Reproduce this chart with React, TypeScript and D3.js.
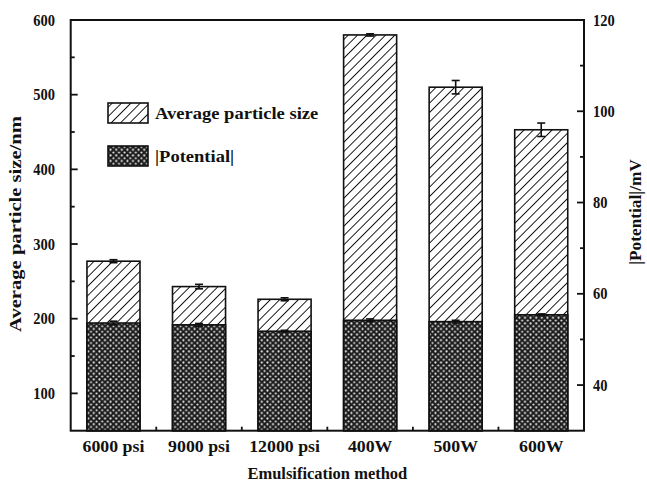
import * as d3 from "d3";

const categories = ["6000 psi", "9000 psi", "12000 psi", "400W", "500W", "600W"];
const particleSize = [277, 243, 226, 580, 510, 453];
const particleErr = [2, 3, 2, 1.5, 9, 9];
const potential = [53.6, 53.2, 51.8, 54.2, 53.9, 55.4];
const potentialErr = [0.4, 0.3, 0.2, 0.3, 0.3, 0.2];
const leftTicks = [100, 200, 300, 400, 500, 600];
const leftMinor = [150, 250, 350, 450, 550];
const rightTicks = [40, 60, 80, 100, 120];
const rightMinor = [50, 70, 90, 110];

const W = 647;
const H = 483;
const left = 70.7;
const right = 584;
const top = 20;
const bottom = 430.7;
const FONT = "'Liberation Serif', 'Times New Roman', serif";

function Txt(props: {
  x: number;
  y: number;
  fs: number;
  sx?: number;
  sy?: number;
  rot?: number;
  anchor?: string;
  children: any;
}) {
  const { x, y, fs, sx = 1, sy = 1, rot = 0, anchor = "middle" } = props;
  return (
    <text
      transform={`translate(${x},${y}) rotate(${rot}) scale(${sx},${sy})`}
      fontSize={fs}
      fontFamily={FONT}
      fontWeight="bold"
      textAnchor={anchor}
      fill="#111"
    >
      {props.children}
    </text>
  );
}

export default function App() {
  const x = d3
    .scaleBand<string>()
    .domain(categories)
    .range([left, right])
    .paddingInner(0.38)
    .paddingOuter(0.19);
  const yL = d3.scaleLinear().domain([50, 600]).range([bottom, top]);
  const yR = d3.scaleLinear().domain([30, 120]).range([bottom, top]);
  const bw = x.bandwidth();
  const cap = 4;

  return (
    <svg
      width={W}
      height={H}
      style={{ position: "absolute", left: 0, top: 0, background: "#fff" }}
    >
      <defs>
        <pattern
          id="hatch"
          width={6.6}
          height={6.6}
          patternUnits="userSpaceOnUse"
          patternTransform="rotate(45)"
        >
          <rect width={6.6} height={6.6} fill="#fff" />
          <line x1={0} y1={0} x2={0} y2={6.6} stroke="#111" strokeWidth={1.9} />
        </pattern>
        <pattern id="dots" width={5.6} height={5.6} patternUnits="userSpaceOnUse">
          <rect width={5.6} height={5.6} fill="#1c1c1c" />
          <circle cx={1.4} cy={1.4} r={1.05} fill="#f4f4f4" />
          <circle cx={4.2} cy={4.2} r={1.05} fill="#f4f4f4" />
        </pattern>
      </defs>

      {/* particle size bars */}
      {categories.map((c, i) => (
        <rect
          key={"p" + c}
          x={x(c)!}
          y={yL(particleSize[i])}
          width={bw}
          height={bottom - yL(particleSize[i])}
          fill="url(#hatch)"
          stroke="#111"
          strokeWidth={1.6}
        />
      ))}
      {categories.map((c, i) => {
        const cx = x(c)! + bw / 2;
        const y1 = yL(particleSize[i] + particleErr[i]);
        const y2 = yL(particleSize[i] - particleErr[i]);
        return (
          <g key={"pe" + c} stroke="#111" strokeWidth={1.6}>
            <line x1={cx} x2={cx} y1={y1} y2={y2} />
            <line x1={cx - cap} x2={cx + cap} y1={y1} y2={y1} />
            <line x1={cx - cap} x2={cx + cap} y1={y2} y2={y2} />
          </g>
        );
      })}

      {/* potential bars */}
      {categories.map((c, i) => (
        <rect
          key={"z" + c}
          x={x(c)!}
          y={yR(potential[i])}
          width={bw}
          height={bottom - yR(potential[i])}
          fill="url(#dots)"
          stroke="#111"
          strokeWidth={1.6}
        />
      ))}
      {categories.map((c, i) => {
        const cx = x(c)! + bw / 2;
        const y1 = yR(potential[i] + potentialErr[i]);
        const y2 = yR(potential[i] - potentialErr[i]);
        return (
          <g key={"ze" + c} stroke="#111" strokeWidth={1.6}>
            <line x1={cx} x2={cx} y1={y1} y2={y2} />
            <line x1={cx - cap} x2={cx + cap} y1={y1} y2={y1} />
            <line x1={cx - cap} x2={cx + cap} y1={y2} y2={y2} />
          </g>
        );
      })}

      {/* frame */}
      <rect
        x={left}
        y={top}
        width={right - left}
        height={bottom - top}
        fill="none"
        stroke="#111"
        strokeWidth={2}
      />

      {/* left axis */}
      {leftTicks.map((t) => (
        <g key={"lt" + t}>
          <line x1={left} x2={left + 7} y1={yL(t)} y2={yL(t)} stroke="#111" strokeWidth={1.8} />
          <Txt x={55} y={yL(t) + 5.5} fs={14.5} sy={1.15} anchor="end">
            {t}
          </Txt>
        </g>
      ))}
      {leftMinor.map((t) => (
        <line key={"lm" + t} x1={left} x2={left + 4} y1={yL(t)} y2={yL(t)} stroke="#111" strokeWidth={1.8} />
      ))}

      {/* right axis */}
      {rightTicks.map((t) => (
        <g key={"rt" + t}>
          <line x1={right - 7} x2={right} y1={yR(t)} y2={yR(t)} stroke="#111" strokeWidth={1.8} />
          <Txt x={593} y={yR(t) + 5.5} fs={14.5} sy={1.15} anchor="start">
            {t}
          </Txt>
        </g>
      ))}
      {rightMinor.map((t) => (
        <line key={"rm" + t} x1={right - 4} x2={right} y1={yR(t)} y2={yR(t)} stroke="#111" strokeWidth={1.8} />
      ))}

      {/* bottom axis */}
      {categories.slice(1).map((c) => {
        const bx = x(c)! - (x.step() - bw) / 2;
        return (
          <line key={"bm" + c} x1={bx} x2={bx} y1={bottom} y2={bottom - 4} stroke="#111" strokeWidth={1.8} />
        );
      })}
      {categories.map((c) => (
        <Txt key={"cl" + c} x={x(c)! + bw / 2} y={452} fs={16.5} sx={1.08}>
          {c}
        </Txt>
      ))}

      <Txt x={(left + right) / 2} y={478.5} fs={16.5} sy={1.05}>
        Emulsification method
      </Txt>
      <Txt x={21} y={224} fs={16.5} sx={1.25} rot={-90}>
        Average particle size/nm
      </Txt>
      <Txt x={641} y={212} fs={16.5} sx={1.05} rot={-90}>
        |Potential|/mV
      </Txt>

      {/* legend */}
      <rect x={108} y={103} width={40} height={20} fill="url(#hatch)" stroke="#111" strokeWidth={1.6} />
      <Txt x={155} y={118.5} fs={17.5} sx={1.06} anchor="start">
        Average particle size
      </Txt>
      <rect x={108} y={146} width={40} height={20} fill="url(#dots)" stroke="#111" strokeWidth={1.6} />
      <Txt x={155} y={161.5} fs={17.5} sx={1.06} anchor="start">
        |Potential|
      </Txt>
    </svg>
  );
}
